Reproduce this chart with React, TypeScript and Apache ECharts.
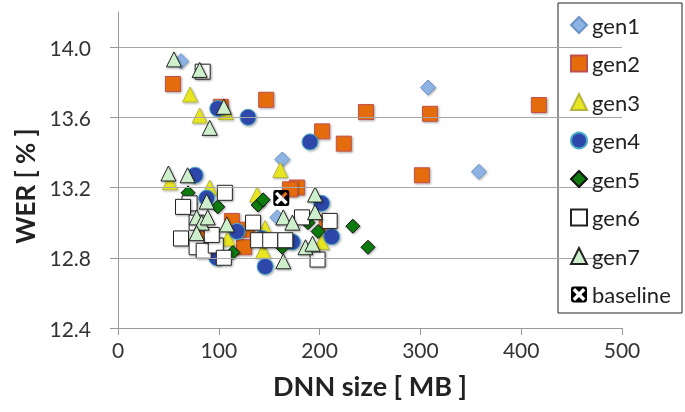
import React, { useEffect, useRef } from "react";
import * as echarts from "echarts";

const xTicks = [0, 100, 200, 300, 400, 500];
const yTicks = [12.4, 12.8, 13.2, 13.6, 14.0];
const seriesNames = ["gen1", "gen2", "gen3", "gen4", "gen5", "gen6", "gen7", "baseline"];

const gen1: number[][] = [[62.5, 13.92], [307.5, 13.77], [358, 13.29], [163, 13.36], [158, 13.03]];
const gen2: number[][] = [
  [54.5, 13.79], [102, 13.66], [147, 13.7], [202.5, 13.52], [246, 13.63], [224, 13.45],
  [309.5, 13.62], [417.5, 13.67], [301.5, 13.27], [177.5, 13.2], [170.5, 13.19],
  [113, 13.01], [125, 12.86], [128, 12.96], [207, 13.0], [86, 12.91],
];
const gen3: number[][] = [
  [71.5, 13.73], [81, 13.61], [107, 13.63], [51.5, 13.23], [91, 13.2], [161, 13.3],
  [138, 13.16], [144, 12.84], [202, 12.89], [109, 12.91], [146, 12.97],
];
const gen4: number[][] = [
  [129, 13.6], [99, 13.65], [190.5, 13.46], [76.5, 13.27], [146, 12.75], [212, 12.92],
  [173, 12.89], [98, 12.8], [118, 12.95], [88, 13.14], [202, 13.11], [143, 12.91],
];
const gen5: number[][] = [
  [233, 12.98], [248, 12.86], [139, 13.1], [144, 13.13], [69.5, 13.17], [71.5, 13.11],
  [99, 13.09], [198.5, 12.95], [188.5, 13.0], [163, 12.86], [114, 12.83],
];
const gen6: number[][] = [
  [84, 13.86], [62.5, 12.91], [78, 12.86], [85, 12.84], [97, 12.87], [105, 12.8],
  [93, 12.93], [134, 13.0], [139, 12.9], [151, 12.9], [166, 12.9], [182.5, 13.03],
  [210, 13.01], [198, 12.79], [106, 13.17], [71, 13.11], [64.5, 13.09], [78, 13.0],
];
const gen7: number[][] = [
  [55.5, 13.93], [81, 13.87], [105, 13.66], [91, 13.54], [50, 13.28], [69, 13.27],
  [88, 13.12], [195.5, 13.16], [195.5, 13.06], [164, 13.03], [173, 13.0], [186, 12.86],
  [193, 12.88], [164, 12.78], [78, 13.03], [83, 13.0], [89, 13.03], [108, 12.99], [78, 12.94],
];
const baseline: number[][] = [[162, 13.14]];

const FONT = "Lato, 'Noto Sans', sans-serif";

const baselineSymbol =
  "path://M1.5 0 H8.5 Q10 0 10 1.5 V8.5 Q10 10 8.5 10 H1.5 Q0 10 0 8.5 V1.5 Q0 0 1.5 0 Z " +
  "M1 2.5 L3.5 5 L1 7.5 L2.5 9 L5 6.5 L7.5 9 L9 7.5 L6.5 5 L9 2.5 L7.5 1 L5 3.5 L2.5 1 Z";

const shadow = { shadowBlur: 2, shadowColor: "rgba(0,0,0,0.35)", shadowOffsetX: 1, shadowOffsetY: 1 };

export default function App() {
  const ref = useRef<HTMLDivElement>(null);
  useEffect(() => {
    if (!ref.current) return;
    const chart = echarts.init(ref.current, null, { renderer: "svg" });
    const mk = (name: string, data: number[][], symbol: string, size: number, fill: string, border: string, bw = 1) => ({
      name,
      type: "scatter",
      data,
      symbol,
      symbolSize: size,
      itemStyle: { color: fill, borderColor: border, borderWidth: bw, opacity: 1, ...shadow },
      emphasis: { disabled: true },
      z: 2,
    });
    chart.setOption({
      animation: false,
      textStyle: { fontFamily: FONT },
      grid: { left: 118, right: 63, top: 12, bottom: 84, containLabel: false, outerBoundsMode: "none" },
      xAxis: {
        type: "value",
        min: 0,
        max: 500,
        interval: 100,
        name: "DNN size [ MB ]",
        nameLocation: "middle",
        nameGap: 44,
        nameTextStyle: { fontSize: 27, fontWeight: "bold", color: "#222", fontFamily: FONT },
        axisLine: { show: true, lineStyle: { color: "#999", width: 1 } },
        axisTick: { show: true, length: 7, lineStyle: { color: "#999" }, customValues: xTicks },
        axisLabel: { fontSize: 21, color: "#333", margin: 11, fontFamily: FONT, customValues: xTicks },
        splitLine: { show: false },
      },
      yAxis: {
        type: "value",
        min: 12.4,
        max: 14.2,
        interval: 0.4,
        axisLine: { show: true, lineStyle: { color: "#999", width: 1 } },
        axisTick: { show: true, length: 8, lineStyle: { color: "#999" }, customValues: yTicks },
        axisLabel: {
          fontSize: 21,
          color: "#333",
          margin: 27,
          fontFamily: FONT,
          customValues: yTicks,
          formatter: (v: number) => (v > 14.1 ? "" : v.toFixed(1)),
        },
        splitLine: { show: false },
      },
      legend: {
        data: seriesNames,
        orient: "vertical",
        left: 570,
        top: 14,
        padding: 0,
        itemGap: 16.5,
        itemWidth: 16,
        itemHeight: 16,
        textStyle: { fontSize: 22, color: "#222", fontFamily: FONT, lineHeight: 19 },
        z: 6,
        selectedMode: false,
      },
      graphic: [
        {
          type: "rect",
          z: 5,
          shape: { x: 558, y: 3, width: 124, height: 310 },
          style: { fill: "#fff", stroke: "#222", lineWidth: 1 },
        },
        {
          type: "text",
          z: 5,
          x: 25,
          y: 186,
          rotation: Math.PI / 2,
          style: {
            text: "WER [ % ]",
            fontSize: 26,
            fontWeight: "bold",
            fill: "#222",
            fontFamily: FONT,
            align: "center",
            verticalAlign: "middle",
          },
        },
      ],
      series: [
        {
          name: "grid",
          type: "scatter",
          data: [],
          z: 1,
          silent: true,
          markLine: {
            silent: true,
            symbol: ["none", "none"],
            label: { show: false },
            lineStyle: { color: "#A6A6A6", width: 1, type: "solid" },
            emphasis: { disabled: true },
            data: yTicks.slice(1).map((v) => ({ yAxis: v })),
          },
        },
        mk("gen1", gen1, "diamond", 15, "#8DB3E2", "#6A93C8"),
        mk("gen2", gen2, "rect", 15, "#E46C0A", "#C0504D"),
        mk("gen3", gen3, "triangle", 15, "#E8E524", "#B5B53A"),
        mk("gen4", gen4, "circle", 16, "#2E47AA", "#4BACC6"),
        mk("gen5", gen5, "diamond", 14, "#107A10", "#111"),
        mk("gen6", gen6, "rect", 15, "#FFFFFF", "#222"),
        mk("gen7", gen7, "triangle", 15, "#CDEFCB", "#222"),
        {
          name: "baseline",
          type: "scatter",
          data: baseline,
          symbol: baselineSymbol,
          symbolSize: 16,
          itemStyle: { color: "#000", borderWidth: 0, opacity: 1 },
          emphasis: { disabled: true },
          z: 3,
        },
      ],
    });
    return () => chart.dispose();
  }, []);
  return <div ref={ref} style={{ position: "fixed", left: 0, top: 0, width: 685, height: 412 }} />;
}
